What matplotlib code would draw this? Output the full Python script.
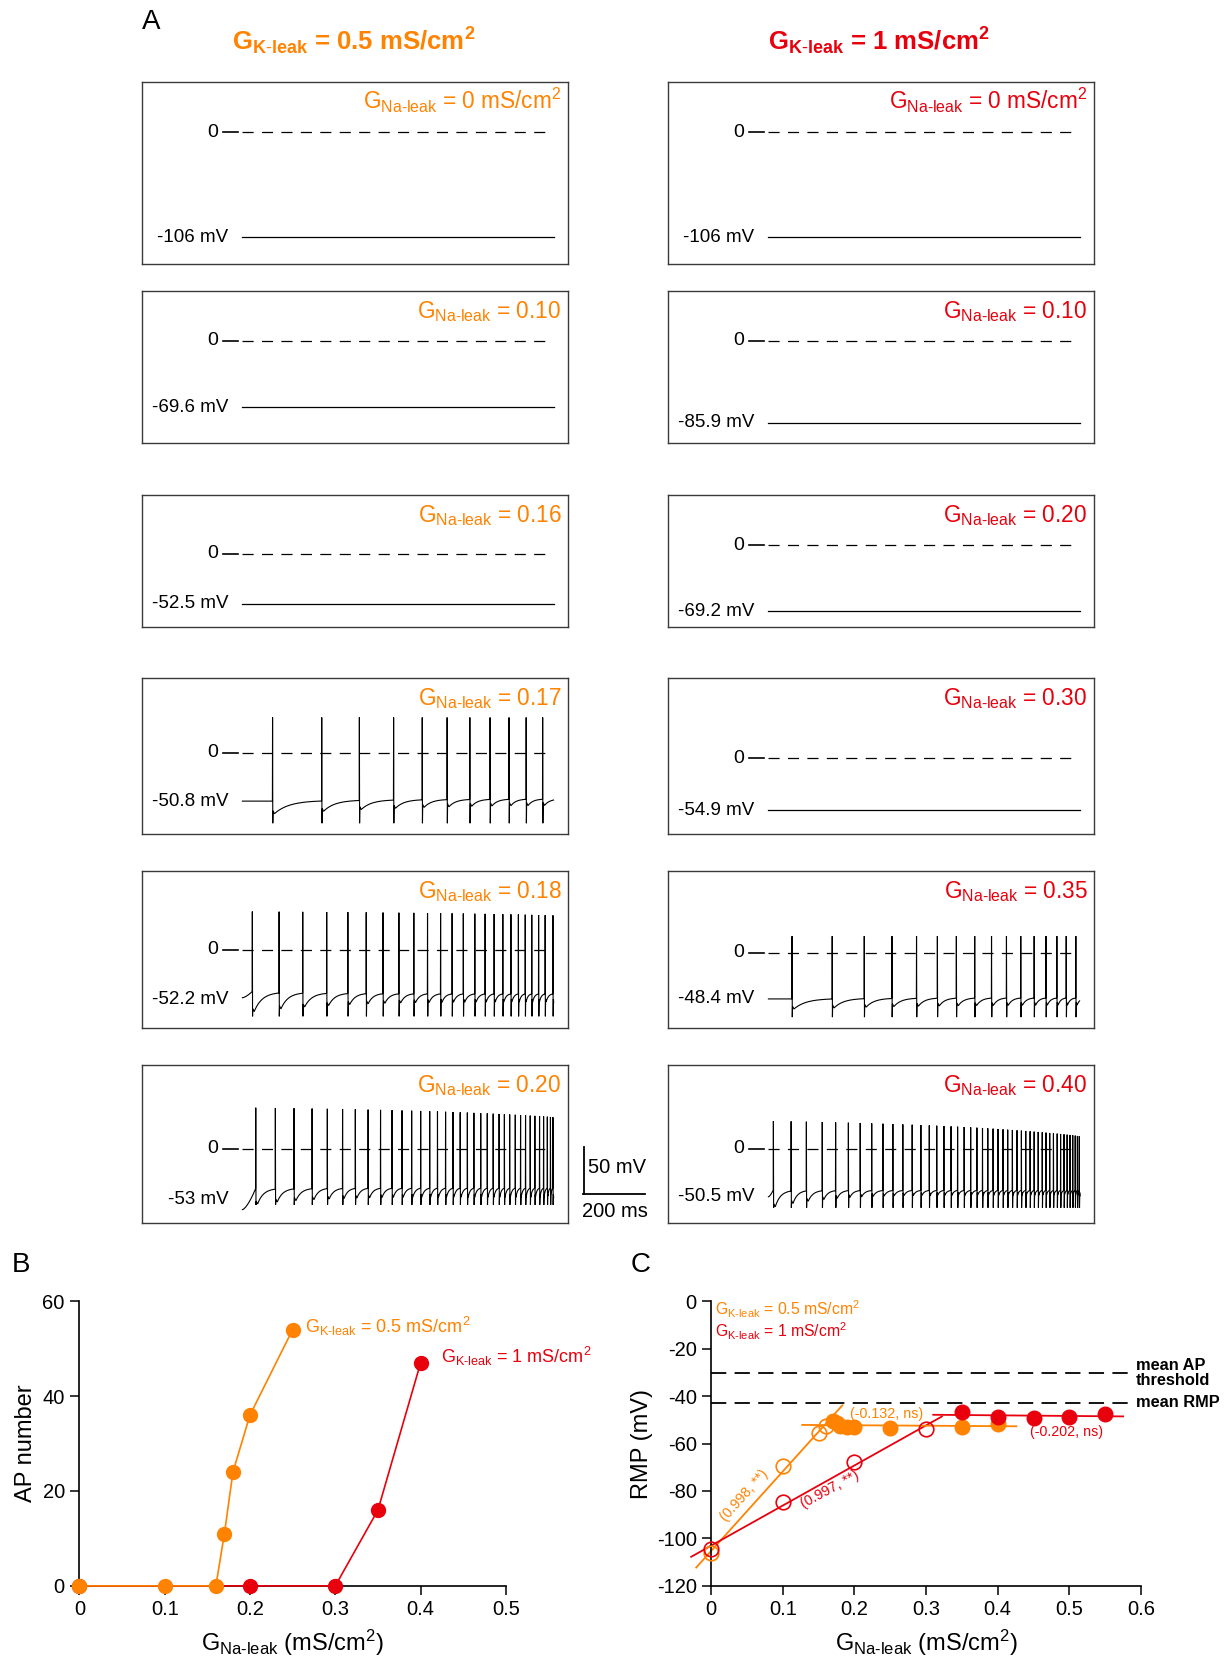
import numpy as np
import matplotlib
matplotlib.use('Agg')
import matplotlib.pyplot as plt

plt.rcParams['font.family'] = ['Liberation Sans', 'DejaVu Sans']
plt.rcParams['mathtext.fontset'] = 'custom'
plt.rcParams['mathtext.rm'] = 'Liberation Sans'
plt.rcParams['mathtext.it'] = 'Liberation Sans:italic'
plt.rcParams['mathtext.bf'] = 'Liberation Sans:bold'
plt.rcParams['mathtext.default'] = 'regular'
plt.rcParams['axes.unicode_minus'] = False
plt.rcParams['lines.scale_dashes'] = False

ORANGE = '#FF8200'
RED = '#E8000D'

# ------------------------------------------------------------------ data
# Panel A: trace panels (left column G_K-leak = 0.5, right column G_K-leak = 1)
left_gna = ['0 mS/cm$^2$', '0.10', '0.16', '0.17', '0.18', '0.20']
right_gna = ['0 mS/cm$^2$', '0.10', '0.20', '0.30', '0.35', '0.40']
left_rest = [-106, -69.6, -52.5, -50.8, -52.2, -53]
right_rest = [-106, -85.9, -69.2, -54.9, -48.4, -50.5]
left_rest_lbl = ['-106 mV', '-69.6 mV', '-52.5 mV', '-50.8 mV', '-52.2 mV', '-53 mV']
right_rest_lbl = ['-106 mV', '-85.9 mV', '-69.2 mV', '-54.9 mV', '-48.4 mV', '-50.5 mV']

# spike times (ms)
spikes_L017 = [97, 255, 376, 486, 578, 658, 731, 796, 857, 912, 965]
spikes_L018 = [32, 118, 194, 271, 339, 398, 452, 503, 551, 595, 637, 674, 710, 747,
               780, 809, 837, 863, 887, 909, 930, 952, 973, 998]
spikes_L020 = [43, 106, 166, 224, 273, 322, 363, 404, 444, 481, 513, 544, 573, 602,
               627, 653, 677, 700, 723, 744, 766, 787, 806, 825, 842, 859, 877, 894,
               910, 925, 940, 955, 968, 980, 990, 998]
spikes_R035 = [76, 205, 308, 397, 476, 543, 604, 663, 717, 765, 811, 854, 892, 927,
               957, 988]
spikes_R040 = [16, 73, 122, 173, 216, 257, 295, 332, 368, 400, 432, 462, 490, 517,
               541, 564, 587, 608, 629, 650, 670, 688, 705, 722, 738, 754, 769, 784,
               799, 813, 827, 841, 854, 867, 880, 892, 904, 916, 928, 939, 950, 960,
               969, 978, 986, 993, 999]
# waveform levels (mV): start, pre-spike first/late, AHP first/late, trough, peak first/late
wave_L017 = [-50.8, -50.8, -48.4, -64, -55, -74, 37, 37]
wave_L018 = [-50.5, -44, -46, -65, -55, -70, 40, 36]
wave_L020 = [-64, -42, -41, -58, -51, -59, 43, 33]
wave_R035 = [-48.4, -48.4, -47, -59, -55, -67.5, 17.5, 17.5]
wave_R040 = [-50.5, -43.6, -43.6, -61, -49, -62, 29, 13]

# Panel B: AP number vs G_Na-leak
b_or_x = [0, 0.1, 0.16, 0.17, 0.18, 0.2, 0.25]
b_or_y = [0, 0, 0, 11, 24, 36, 54]
b_red_x = [0, 0.2, 0.3, 0.35, 0.4]
b_red_y = [0, 0, 0, 16, 47]

# Panel C: RMP vs G_Na-leak
c_or_open_x = [0, 0.1, 0.15, 0.16]
c_or_open_y = [-106, -69.6, -55.5, -52.5]
c_or_fill_x = [0.17, 0.175, 0.18, 0.19, 0.2, 0.25, 0.35, 0.4]
c_or_fill_y = [-50.5, -51.5, -52.5, -53, -53.2, -53.6, -53, -51.8]
c_red_open_x = [0, 0.1, 0.2, 0.3]
c_red_open_y = [-104.5, -84.5, -68, -53.7]
c_red_fill_x = [0.35, 0.4, 0.45, 0.5, 0.55]
c_red_fill_y = [-46.8, -48.8, -49.4, -48.9, -47.4]
ap_threshold = -30.3
mean_rmp = -42.9

# ------------------------------------------------------------------ layout
W, H = 1164.0, 1568.0


def rect(x0, y0, x1, y1):
    return [x0 / W, 1 - y1 / H, (x1 - x0) / W, (y1 - y0) / H]


fig = plt.figure(figsize=(12.32, 16.60), dpi=100)

SUB = lambda s: '$_{' + s.replace('-', r'\text{-}') + '}$'
GNA = 'G' + SUB('Na-leak')
GK = 'G' + SUB('K-leak')

col_x = [(134, 537), (631, 1034)]
rows_y = [(77, 249), (275, 418), (468, 592), (640, 788), (823, 971), (1006, 1155)]
zero_y = [[125, 322, 523, 711, 897, 1085], [125, 322, 515, 716, 900, 1085]]
row_kpx = [0.935, 0.9, 0.9, 0.9, 0.9, 0.9]   # px per mV
MS_PX = 1000.0 / 294.0    # ms per px


def make_trace(spk, p, dur=1000.0):
    v0, pre1, pre2, ahp1, ahp2, trough, pk1, pk2 = p
    n = len(spk)
    idx = np.arange(n)
    w = 1 - np.exp(-idx / 3.0)
    pre = pre1 + (pre2 - pre1) * w
    ahp = ahp1 + (ahp2 - ahp1) * w
    wl = idx / max(n - 1, 1)
    pk = pk1 + (pk2 - pk1) * wl
    t = [0.0]
    v = [v0]
    tt = np.linspace(0, spk[0] - 0.5, 30)
    t += list(tt[1:])
    v += list(v0 + (pre[0] - v0) * (tt[1:] / tt[-1]) ** 1.5)
    for k in range(n):
        tk = spk[k]
        tn = spk[k + 1] if k + 1 < n else dur + 20
        isi = tn - tk
        d = min(6.0, 0.12 * isi)
        t += [tk, tk + 0.7, tk + 1.5]
        v += [pk[k], trough, ahp[k] + 3]
        target = pre[k + 1] if k + 1 < n else pre[-1]
        seg = np.linspace(tk + d, min(tn - 0.5, dur), 40)
        tau = 0.3 * isi
        v += list(target - (target - ahp[k]) * np.exp(-(seg - tk - d) / tau))
        t += list(seg)
    return np.array(t), np.array(v)


spike_sets = {(0, 3): (spikes_L017, wave_L017), (0, 4): (spikes_L018, wave_L018),
              (0, 5): (spikes_L020, wave_L020), (1, 4): (spikes_R035, wave_R035),
              (1, 5): (spikes_R040, wave_R040)}

axes_A = {}
for col in range(2):
    gnas = left_gna if col == 0 else right_gna
    rests = left_rest if col == 0 else right_rest
    rlbl = left_rest_lbl if col == 0 else right_rest_lbl
    ccol = ORANGE if col == 0 else RED
    for row in range(6):
        x0, x1 = col_x[col]
        yt, yb = rows_y[row]
        kpx = row_kpx[row]
        ax = fig.add_axes(rect(x0, yt, x1, yb))
        axes_A[(col, row)] = ax
        zy = zero_y[col][row]
        ax.set_ylim(-(yb - zy) / kpx, (zy - yt) / kpx)
        ax.set_xlim(-95 * MS_PX, 1000 + 14 * MS_PX)
        ax.set_xticks([])
        ax.set_yticks([])
        for s in ax.spines.values():
            s.set_color('#3a3a3a')
            s.set_linewidth(1.0)
        ax.plot([0, 996], [0, 0], color='black', lw=0.9, dashes=(8, 6), zorder=1)
        if (col, row) in spike_sets:
            spk, wv = spike_sets[(col, row)]
            t, v = make_trace(spk, wv)
            ax.plot(t, v, color='black', lw=0.8, zorder=2, solid_joinstyle='miter')
        else:
            ax.plot([0, 1000], [rests[row], rests[row]], color='black', lw=0.9, zorder=2)
        tr = ax.get_yaxis_transform()
        ax.plot([0.191, 0.226], [0, 0], color='black', lw=1.2, transform=tr)
        ax.text(0.178, 0, '0', transform=tr, ha='right', va='center', fontsize=14)
        ax.text(0.203, rests[row], rlbl[row], transform=tr, ha='right', va='center',
                fontsize=13.5)
        ax.annotate(GNA + ' = ' + gnas[row], xy=(1, 1), xycoords='axes fraction',
                    xytext=(-5, -19.5), textcoords='offset points', ha='right',
                    va='baseline', fontsize=16.3, color=ccol)

# scale bar (in bottom-left trace panel data units)
axs = axes_A[(0, 5)]
sb_t = 1000 + 29 * MS_PX
sb_top = 2.2
axs.plot([sb_t, sb_t], [sb_top, sb_top - 50], color='black', lw=1.3, clip_on=False)
axs.plot([sb_t - 1 * MS_PX, sb_t - 1 * MS_PX + 200], [sb_top - 50, sb_top - 50],
         color='black', lw=1.3, clip_on=False)
axs.text(sb_t + 4 * MS_PX, sb_top - 22, '50 mV', ha='left', va='center', fontsize=14.5,
         clip_on=False)
axs.text(sb_t + 100, sb_top - 68, '200 ms', ha='center', va='center', fontsize=14.5,
         clip_on=False)

# headers
fig.text(334 / W, 1 - 48 / H, GK + ' = 0.5 mS/cm$^2$', ha='center', va='baseline',
         fontsize=18.5, fontweight='bold', color=ORANGE)
fig.text(830 / W, 1 - 48 / H, GK + ' = 1 mS/cm$^2$', ha='center', va='baseline',
         fontsize=18.5, fontweight='bold', color=RED)
fig.text(134 / W, 1 - 21 / H, 'A', ha='left', va='center', fontsize=20)
fig.text(11 / W, 1 - 1195 / H, 'B', ha='left', va='center', fontsize=20)
fig.text(596 / W, 1 - 1195 / H, 'C', ha='left', va='center', fontsize=20)


def style_axes(ax):
    for s in ['top', 'right']:
        ax.spines[s].set_visible(False)
    for s in ['left', 'bottom']:
        ax.spines[s].set_linewidth(1.2)
    ax.tick_params(direction='out', length=6.5, width=1.1, labelsize=14.5, pad=4)


# ------------------------------------------------------------------ panel B
axB = fig.add_axes(rect(75, 1229, 478, 1498))
style_axes(axB)
axB.set_xlim(0, 0.5)
axB.set_ylim(0, 60)
axB.set_xticks([0, 0.1, 0.2, 0.3, 0.4, 0.5])
axB.set_xticklabels(['0', '0.1', '0.2', '0.3', '0.4', '0.5'])
axB.set_yticks([0, 20, 40, 60])
axB.plot(b_red_x, b_red_y, '-o', color=RED, ms=10, lw=1.2, clip_on=False, zorder=3)
axB.plot(b_or_x, b_or_y, '-o', color=ORANGE, ms=10, lw=1.2, clip_on=False, zorder=4)
axB.set_ylabel('AP number', fontsize=17, labelpad=4)
axB.set_xlabel(GNA + ' (mS/cm$^2$)', fontsize=17, labelpad=6)
axB.text(0.265, 54.7, GK + ' = 0.5 mS/cm$^2$', color=ORANGE, fontsize=13,
         ha='left', va='center')
axB.text(0.4236, 48.4, GK + ' = 1 mS/cm$^2$', color=RED, fontsize=13,
         ha='left', va='center')

# ------------------------------------------------------------------ panel C
axC = fig.add_axes(rect(672, 1229, 1078, 1498))
style_axes(axC)
axC.set_xlim(0, 0.6)
axC.set_ylim(-120, 0)
axC.set_xticks([0, 0.1, 0.2, 0.3, 0.4, 0.5, 0.6])
axC.set_xticklabels(['0', '0.1', '0.2', '0.3', '0.4', '0.5', '0.6'])
axC.set_yticks([0, -20, -40, -60, -80, -100, -120])
axC.set_ylabel('RMP (mV)', fontsize=17, labelpad=3)
axC.set_xlabel(GNA + ' (mS/cm$^2$)', fontsize=17, labelpad=6)

for yv in (ap_threshold, mean_rmp):
    axC.plot([0, 0.587], [yv, yv], color='black', lw=1.3, dashes=(11, 6), clip_on=False)
axC.text(0.593, ap_threshold, 'mean AP\nthreshold', fontsize=11.8, fontweight='bold',
         ha='left', va='center', linespacing=0.95)
axC.text(0.593, mean_rmp, 'mean RMP', fontsize=11.8, fontweight='bold',
         ha='left', va='center')


def fit_line(ax, xs, ys, xr, color):
    m, b = np.polyfit(xs, ys, 1)
    xr = np.array(xr)
    ax.plot(xr, m * xr + b, color=color, lw=1.3, clip_on=False, zorder=2)


fit_line(axC, c_or_open_x, c_or_open_y, [-0.021, 0.183], ORANGE)
fit_line(axC, c_red_open_x, c_red_open_y, [-0.028, 0.322], RED)
fit_line(axC, c_or_fill_x, c_or_fill_y, [0.127, 0.426], ORANGE)
fit_line(axC, c_red_fill_x, c_red_fill_y, [0.31, 0.575], RED)

axC.plot(c_or_open_x, c_or_open_y, 'o', mfc='none', mec=ORANGE, mew=1.2, ms=10.5,
         clip_on=False, zorder=3)
axC.plot(c_red_open_x, c_red_open_y, 'o', mfc='none', mec=RED, mew=1.2, ms=10.5,
         clip_on=False, zorder=3)
axC.plot(c_or_fill_x, c_or_fill_y, 'o', color=ORANGE, ms=10.5, clip_on=False, zorder=4)
axC.plot(c_red_fill_x, c_red_fill_y, 'o', color=RED, ms=10.5, clip_on=False, zorder=4)

axC.text(0.046, -82.0, '(0.998, **)', color=ORANGE, fontsize=10.3, rotation=48,
         ha='center', va='center')
axC.text(0.1656, -79.3, '(0.997, **)', color=RED, fontsize=10.3, rotation=28.5,
         ha='center', va='center')
axC.text(0.245, -47.7, '(-0.132, ns)', color=ORANGE, fontsize=10.3, ha='center',
         va='center')
axC.text(0.496, -55.1, '(-0.202, ns)', color=RED, fontsize=10.3, ha='center',
         va='center')
axC.text(0.005, -3.5, GK + ' = 0.5 mS/cm$^2$', color=ORANGE, fontsize=11.3,
         ha='left', va='center')
axC.text(0.005, -12.6, GK + ' = 1 mS/cm$^2$', color=RED, fontsize=11.3,
         ha='left', va='center')

fig.savefig('out.png', dpi=100)
